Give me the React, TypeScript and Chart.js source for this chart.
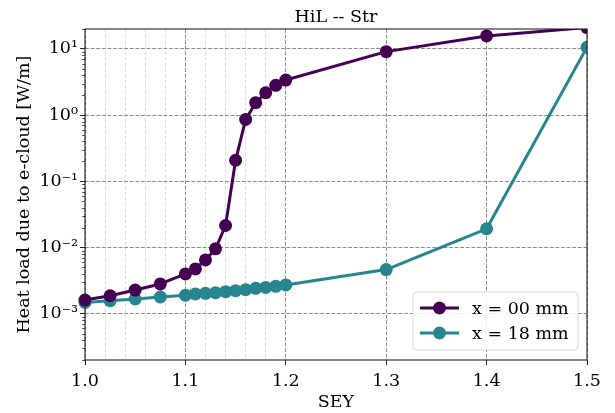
import React, { useEffect, useRef } from 'react';
import { Chart, registerables } from 'chart.js';

Chart.register(...registerables);

// ---- data ----
const sey = [1.0, 1.025, 1.05, 1.075, 1.1, 1.11, 1.12, 1.13, 1.14, 1.15, 1.16, 1.17, 1.18, 1.19, 1.2, 1.3, 1.4, 1.5];
const heatX00 = [1.61e-3, 1.87e-3, 2.28e-3, 2.82e-3, 3.99e-3, 4.75e-3, 6.5e-3, 9.55e-3, 0.0215, 0.208, 0.86, 1.54, 2.18, 2.82, 3.39, 9.1, 15.7, 21];
const heatX18 = [1.48e-3, 1.57e-3, 1.67e-3, 1.79e-3, 1.9e-3, 1.99e-3, 2.03e-3, 2.08e-3, 2.15e-3, 2.23e-3, 2.31e-3, 2.42e-3, 2.5e-3, 2.59e-3, 2.72e-3, 4.64e-3, 0.0192, 10.6];
const seriesLabels = ['x = 00 mm', 'x = 18 mm'];
const seriesColors = ['#440154', '#26858e'];

const xMajorTicks = [1.0, 1.1, 1.2, 1.3, 1.4, 1.5];
const xTickLabels = ['1.0', '1.1', '1.2', '1.3', '1.4', '1.5'];
const xMinorGrid = [1.02, 1.04, 1.06, 1.08, 1.12, 1.14, 1.16, 1.18];
const yMajorTicks = [1e-3, 1e-2, 1e-1, 1, 10];
const yTickLabels = ['10⁻³', '10⁻²', '10⁻¹', '10⁰', '10¹'];
const yMin = 2e-4;
const yMax = 20;

const titleText = 'HiL -- Str';
const xTitle = 'SEY';
const yTitle = 'Heat load due to e-cloud [W/m]';

const FONT = 'DejaVu Serif';
const FS = 17.5;

const yMinorTicks: number[] = [];
for (let d = -4; d <= 1; d++) {
  for (let m = 2; m <= 9; m++) {
    const v = m * Math.pow(10, d);
    if (v >= yMin * 0.999 && v <= yMax * 1.001) yMinorTicks.push(v);
  }
}

const isXMajor = (v: number) => xMajorTicks.some((t) => Math.abs(t - v) < 1e-6);
const yMajorIndex = (v: number) => yMajorTicks.findIndex((t) => Math.abs(Math.log10(t) - Math.log10(v)) < 1e-6);

const decorPlugin = {
  id: 'decor',
  afterDatasetsDraw(chart: any) {
    const { ctx, chartArea } = chart;
    const { left, right, top, bottom } = chartArea;
    const yScale = chart.scales.y;
    ctx.save();
    // minor y tick marks
    ctx.strokeStyle = '#222';
    ctx.lineWidth = 0.8;
    yMinorTicks.forEach((v) => {
      const py = Math.round(yScale.getPixelForValue(v)) + 0.5;
      ctx.beginPath();
      ctx.moveTo(left - 2.8, py);
      ctx.lineTo(left, py);
      ctx.stroke();
    });
    // frame
    ctx.strokeStyle = '#222';
    ctx.lineWidth = 1.1;
    ctx.strokeRect(left, top, right - left, bottom - top);

    // legend (lower right)
    const bw = 165;
    const bh = 58;
    const bx = right - 9 - bw;
    const by = bottom - 10 - bh;
    const r = 4;
    ctx.beginPath();
    ctx.moveTo(bx + r, by);
    ctx.lineTo(bx + bw - r, by);
    ctx.arcTo(bx + bw, by, bx + bw, by + r, r);
    ctx.lineTo(bx + bw, by + bh - r);
    ctx.arcTo(bx + bw, by + bh, bx + bw - r, by + bh, r);
    ctx.lineTo(bx + r, by + bh);
    ctx.arcTo(bx, by + bh, bx, by + bh - r, r);
    ctx.lineTo(bx, by + r);
    ctx.arcTo(bx, by, bx + r, by, r);
    ctx.closePath();
    ctx.fillStyle = 'rgba(255,255,255,0.85)';
    ctx.fill();
    ctx.strokeStyle = '#d6d6d6';
    ctx.lineWidth = 1;
    ctx.stroke();

    chart.data.datasets.forEach((ds: any, i: number) => {
      const ry = by + 16 + i * 25;
      ctx.strokeStyle = ds.borderColor;
      ctx.lineWidth = 3;
      ctx.beginPath();
      ctx.moveTo(bx + 7, ry);
      ctx.lineTo(bx + 46, ry);
      ctx.stroke();
      ctx.fillStyle = ds.borderColor;
      ctx.beginPath();
      ctx.arc(bx + 26.5, ry, 6.5, 0, Math.PI * 2);
      ctx.fill();
      ctx.fillStyle = '#000';
      ctx.font = `${FS}px "${FONT}"`;
      ctx.textAlign = 'left';
      ctx.textBaseline = 'middle';
      ctx.fillText(ds.label, bx + 59, ry + 1);
    });
    ctx.restore();
  },
};

export default function App() {
  const ref = useRef<HTMLCanvasElement>(null);
  useEffect(() => {
    const mk = (vals: number[]) => sey.map((x, i) => ({ x, y: vals[i] }));
    const chart = new Chart(ref.current as HTMLCanvasElement, {
      type: 'line',
      data: {
        datasets: [heatX00, heatX18].map((vals, i) => ({
          label: seriesLabels[i],
          data: mk(vals),
          borderColor: seriesColors[i],
          backgroundColor: seriesColors[i],
          pointBackgroundColor: seriesColors[i],
          pointBorderWidth: 0,
          pointRadius: 6.5,
          borderWidth: 3,
          borderJoinStyle: 'round',
          tension: 0,
          fill: false,
          clip: { left: 8, top: 0, right: 0, bottom: 8 },
        })),
      } as any,
      options: {
        responsive: false,
        animation: false,
        layout: { padding: { left: 0, right: 28, top: 0, bottom: 0 } },
        plugins: {
          legend: { display: false },
          tooltip: { enabled: false },
          title: {
            display: true,
            text: titleText,
            fullSize: false,
            color: '#000',
            font: { family: FONT, size: FS, weight: 'normal' },
            padding: { top: 7, bottom: 1 },
          },
        },
        scales: {
          x: {
            type: 'linear',
            min: 1.0,
            max: 1.5,
            afterBuildTicks: (s: any) => {
              s.ticks = [...xMajorTicks, ...xMinorGrid].sort((a, b) => a - b).map((v) => ({ value: v }));
            },
            afterFit: (s: any) => {
              s.height = 53;
            },
            ticks: {
              autoSkip: false,
              maxRotation: 0,
              padding: 6,
              color: '#000',
              font: { family: FONT, size: FS },
              callback: (v: any) => {
                const i = xMajorTicks.findIndex((t) => Math.abs(t - v) < 1e-6);
                return i >= 0 ? xTickLabels[i] : '';
              },
            },
            grid: {
              color: (c: any) => (isXMajor(c.tick.value) ? '#6e6e6e' : '#d4d4d4'),
              tickColor: (c: any) => (isXMajor(c.tick.value) ? '#222' : 'rgba(0,0,0,0)'),
              lineWidth: 0.8,
              tickWidth: 1,
              tickLength: 5,
            },
            border: { display: false, dash: [3.9, 1.7] },
            title: {
              display: true,
              text: xTitle,
              color: '#000',
              font: { family: FONT, size: FS },
              padding: { top: 0, bottom: 0 },
            },
          },
          y: {
            type: 'logarithmic',
            min: yMin,
            max: yMax,
            afterBuildTicks: (s: any) => {
              s.ticks = [...yMinorTicks, ...yMajorTicks].sort((a, b) => a - b).map((v) => ({ value: v }));
            },
            afterFit: (s: any) => {
              s.width = 85;
            },
            ticks: {
              autoSkip: false,
              padding: 2,
              color: '#000',
              font: { family: FONT, size: FS },
              callback: (v: any) => {
                const i = yMajorIndex(Number(v));
                return i >= 0 ? yTickLabels[i] : '';
              },
            },
            grid: {
              color: (c: any) => (yMajorIndex(c.tick.value) >= 0 ? '#6e6e6e' : 'rgba(0,0,0,0)'),
              tickColor: (c: any) => (yMajorIndex(c.tick.value) >= 0 ? '#222' : 'rgba(0,0,0,0)'),
              lineWidth: 0.8,
              tickWidth: 1,
              tickLength: 5,
            },
            border: { display: false, dash: [3.9, 1.7] },
            title: {
              display: true,
              text: yTitle,
              color: '#000',
              font: { family: FONT, size: FS },
              padding: { top: 13.5, bottom: 0 },
            },
          },
        },
      } as any,
      plugins: [decorPlugin],
    });
    return () => chart.destroy();
  }, []);
  return (
    <div style={{ position: 'absolute', left: 0, top: 0, width: 615, height: 413 }}>
      <canvas ref={ref} width={615} height={413} />
    </div>
  );
}
